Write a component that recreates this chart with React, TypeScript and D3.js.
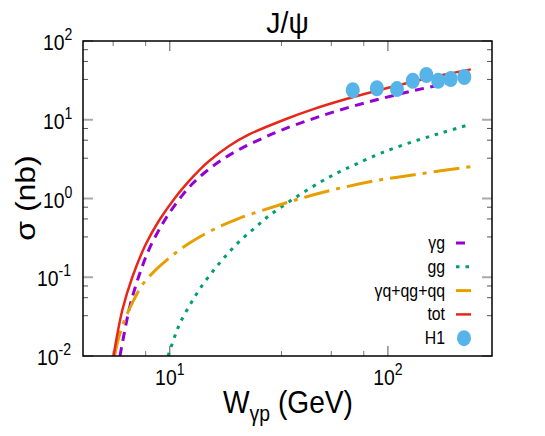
import React from 'react';
import * as d3 from 'd3';

// gamma g (purple dashed)
const W_YG = [5.91, 6.5, 6.98, 7.48, 8.03, 8.93, 9.93, 11.43, 12.93, 15.1, 18.0, 21.5, 26.5, 32.8, 45.2, 64.4, 91.6, 130, 185, 233];
const S_YG = [0.01, 0.0384, 0.0782, 0.1377, 0.2262, 0.4015, 0.6475, 1.105, 1.62, 2.351, 3.313, 4.401, 5.773, 7.459, 10.28, 14.04, 18.34, 23.28, 28.76, 32.65];
// gg (green dotted)
const W_GG = [9.82, 10.66, 11.24, 12.4, 13.78, 15.7, 17.9, 20.8, 24.4, 28.8, 37.3, 48.5, 58.9, 71.6, 94.9, 133, 177, 233];
const S_GG = [0.01, 0.0194, 0.0275, 0.045, 0.0724, 0.1175, 0.182, 0.283, 0.419, 0.617, 1.01, 1.59, 2.13, 2.74, 3.86, 5.37, 6.85, 8.58];
// gamma q + qg + qq (orange dash-dot)
const W_YQ = [5.58, 5.85, 6.28, 6.85, 7.48, 8.62, 10.1, 12.27, 15.7, 20.8, 31.8, 45.2, 64.4, 91.6, 130, 185, 242];
const S_YQ = [0.01, 0.0176, 0.031, 0.052, 0.08, 0.124, 0.182, 0.27, 0.398, 0.56, 0.827, 1.11, 1.41, 1.72, 1.99, 2.3, 2.54];
// total (red solid)
const W_TOT = [5.52, 6.06, 6.73, 7.76, 8.93, 10.66, 12.27, 13.63, 15.1, 18.7, 23.1, 34.6, 45.2, 64.4, 91.6, 130, 185, 240];
const S_TOT = [0.01, 0.0384, 0.1, 0.262, 0.525, 1.054, 1.677, 2.279, 2.972, 4.639, 6.51, 10.37, 13.55, 18.31, 23.85, 30.3, 37.8, 43.6];
// H1 data
const W_H1 = [69, 89, 110, 130, 150, 170, 194, 224];
const S_H1 = [23.7, 25.1, 24.5, 31.3, 37.0, 31.3, 32.9, 34.9];

const X_EXP = [1, 2];
const Y_EXP = [-2, -1, 0, 1, 2];
const MINOR_FACTORS = [3.25, 5.5, 7.75];
const LEGEND_LABELS = ['γg', 'gg', 'γq+qg+qq', 'tot', 'H1'];

const FONT = '"Liberation Sans", Arial, Helvetica, sans-serif';
const SX = 0.88;

function zip(a: number[], b: number[]): [number, number][] {
  return a.map((v, i) => [v, b[i]]);
}

export default function App() {
  const width = 545, height = 436;
  const L = 83, R = 492, T = 41, B = 356;
  const x = d3.scaleLog().domain([4, 300]).range([L, R]);
  const y = d3.scaleLog().domain([0.01, 100]).range([B, T]);
  const line = d3.line<[number, number]>()
    .x(d => x(d[0]))
    .y(d => y(d[1]))
    .curve(d3.curveCatmullRom.alpha(0.5));

  const series = [
    { data: zip(W_YG, S_YG), color: '#9400d3', dash: '9,6.5', w: 3 },
    { data: zip(W_GG, S_GG), color: '#009e73', dash: '3.5,6', w: 3 },
    { data: zip(W_YQ, S_YQ), color: '#e69f00', dash: '26,7,4,7', w: 3 },
    { data: zip(W_TOT, S_TOT), color: '#e8261a', dash: 'none', w: 2.5 },
  ];

  const xMinor: number[] = [];
  [1, 10, 100].forEach(d => MINOR_FACTORS.forEach(f => {
    const v = d * f;
    if (v > 4 && v < 300) xMinor.push(v);
  }));
  const yMinor: number[] = [];
  [0.01, 0.1, 1, 10].forEach(d => MINOR_FACTORS.forEach(f => yMinor.push(d * f)));

  const legendY0 = 243, legendDy = 23.8;

  return (
    <svg width={width} height={height} style={{ position: 'absolute', left: 0, top: 0, background: '#fff' }} fontFamily={FONT}>
      <defs>
        <clipPath id="plotclip">
          <rect x={L} y={T} width={R - L} height={B - T} />
        </clipPath>
      </defs>
      <rect x={0} y={0} width={width} height={height} fill="#fff" />

      {/* ticks */}
      {xMinor.map((v, i) => (
        <g key={'xm' + i} stroke="#777" strokeWidth={1}>
          <line x1={x(v)} x2={x(v)} y1={B} y2={B - 5} />
          <line x1={x(v)} x2={x(v)} y1={T} y2={T + 5} />
        </g>
      ))}
      {X_EXP.map(e => (
        <g key={'xM' + e} stroke="#555" strokeWidth={1}>
          <line x1={x(10 ** e)} x2={x(10 ** e)} y1={B} y2={B - 10} />
          <line x1={x(10 ** e)} x2={x(10 ** e)} y1={T} y2={T + 10} />
        </g>
      ))}
      {yMinor.map((v, i) => (
        <g key={'ym' + i} stroke="#555" strokeWidth={1}>
          <line x1={L} x2={L + 5} y1={y(v)} y2={y(v)} />
          <line x1={R} x2={R - 5} y1={y(v)} y2={y(v)} />
        </g>
      ))}
      {Y_EXP.map(e => (
        <g key={'yM' + e} stroke="#aaa" strokeWidth={2}>
          <line x1={L} x2={L + 10} y1={y(10 ** e)} y2={y(10 ** e)} />
          <line x1={R} x2={R - 10} y1={y(10 ** e)} y2={y(10 ** e)} />
        </g>
      ))}

      {/* curves */}
      <g clipPath="url(#plotclip)">
        {series.map((s, i) => (
          <path key={i} d={line(s.data) || ''} fill="none" stroke={s.color}
            strokeWidth={s.w} strokeDasharray={s.dash} />
        ))}
        {W_H1.map((w, i) => (
          <ellipse key={'h' + i} cx={x(w)} cy={y(S_H1[i])} rx={7} ry={8} fill="#56b4e9" />
        ))}
      </g>

      {/* frame */}
      <rect x={L} y={T} width={R - L} height={B - T} fill="none" stroke="#000" strokeWidth={1.5} />

      {/* y tick labels */}
      {Y_EXP.map(e => (
        <text key={'yl' + e} transform={`translate(${e < 0 ? 37 : 43},${y(10 ** e) + 9}) scale(${SX},1)`}
          fontSize={22} fill="#000">
          10<tspan fontSize={16} dy={-10}>{String(e)}</tspan>
        </text>
      ))}
      {/* x tick labels */}
      {X_EXP.map(e => (
        <text key={'xl' + e} transform={`translate(${x(10 ** e)},385) scale(${SX},1)`}
          fontSize={22} fill="#000" textAnchor="middle">
          10<tspan fontSize={16} dy={-10}>{e}</tspan>
        </text>
      ))}

      {/* title */}
      <text transform={`translate(${(L + R) / 2},33) scale(0.95,1)`} fontSize={30} textAnchor="middle">J/ψ</text>

      {/* axis labels */}
      <text transform={`translate(288,413) scale(${SX},1)`} fontSize={32} textAnchor="middle">
        W<tspan fontSize={22} dy={8}>γp</tspan><tspan dy={-8}> (GeV)</tspan>
      </text>
      <text transform={`translate(35,198) rotate(-90) scale(1,${SX})`} fontSize={32} textAnchor="middle">σ (nb)</text>

      {/* legend */}
      {LEGEND_LABELS.map((lab, i) => {
        const ly = legendY0 + i * legendDy;
        const s = series[i];
        return (
          <g key={'lg' + i}>
            <text transform={`translate(445,${ly + 6}) scale(${SX},1)`} fontSize={18} textAnchor="end">{lab}</text>
            {s ? (
              <line x1={456} x2={471} y1={ly} y2={ly} stroke={s.color} strokeWidth={s.w}
                strokeDasharray={s.dash} />
            ) : (
              <ellipse cx={464} cy={ly} rx={7} ry={8} fill="#56b4e9" />
            )}
          </g>
        );
      })}
    </svg>
  );
}
